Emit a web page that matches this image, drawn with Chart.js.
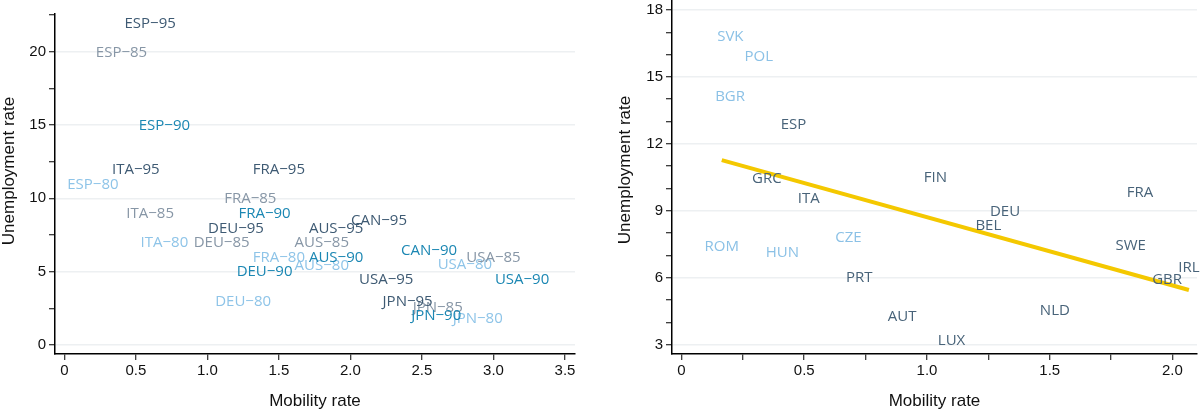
<!DOCTYPE html>
<html><head><meta charset="utf-8">
<script src="https://cdn.jsdelivr.net/npm/chart.js@4"></script>
<style>
html,body{margin:0;padding:0;background:#fff;}
#wrap{position:relative;width:1200px;height:412px;overflow:hidden;}
.p{position:absolute;top:0;width:600px;height:412px;}
</style></head><body>
<div id="wrap">
<div class="p" style="left:0"><canvas id="c1" width="600" height="412"></canvas></div>
<div class="p" style="left:600px"><canvas id="c2" width="600" height="412"></canvas></div>
</div>
<script>
// ---------- Left panel data (country-year labels) ----------
const labels80 = ['ESP−80','ITA−80','DEU−80','FRA−80','AUS−80','USA−80','JPN−80'];
const x80 = [0.20, 0.70, 1.25, 1.50, 1.80, 2.80, 2.89];
const y80 = [10.95, 6.96, 2.95, 5.95, 5.42, 5.46, 1.82];

const labels85 = ['ESP−85','ITA−85','FRA−85','DEU−85','AUS−85','USA−85','JPN−85'];
const x85 = [0.40, 0.60, 1.30, 1.10, 1.80, 3.00, 2.61];
const y85 = [19.93, 8.96, 10.00, 6.96, 6.98, 5.96, 2.54];

const labels90 = ['ESP−90','FRA−90','DEU−90','AUS−90','CAN−90','USA−90','JPN−90'];
const x90 = [0.70, 1.40, 1.40, 1.90, 2.55, 3.20, 2.60];
const y90 = [14.94, 8.96, 5.00, 5.96, 6.46, 4.46, 1.98];

const labels95 = ['ESP−95','ITA−95','FRA−95','DEU−95','AUS−95','CAN−95','USA−95','JPN−95'];
const x95 = [0.60, 0.50, 1.50, 1.20, 1.90, 2.20, 2.25, 2.40];
const y95 = [21.94, 11.96, 11.96, 7.94, 7.96, 8.48, 4.46, 2.95];

// ---------- Right panel data ----------
const labelsWest = ['ESP','GRC','ITA','FIN','FRA','DEU','BEL','SWE','IRL','GBR','NLD','AUT','LUX','PRT'];
const xWest = [0.456, 0.348, 0.518, 1.034, 1.868, 1.318, 1.250, 1.830, 2.067, 1.978, 1.521, 0.899, 1.100, 0.724];
const yWest = [12.85, 10.44, 9.54, 10.49, 9.82, 8.94, 8.34, 7.42, 6.45, 5.89, 4.53, 4.27, 3.17, 6.01];

const labelsEast = ['SVK','POL','BGR','ROM','HUN','CZE'];
const xEast = [0.199, 0.315, 0.198, 0.164, 0.411, 0.680];
const yEast = [16.78, 15.89, 14.11, 7.41, 7.11, 7.78];

const fitX = [0.164, 2.067];
const fitY = [11.27, 5.45];

// ---------- Ticks ----------
const ticksLeftX = [0, 0.5, 1, 1.5, 2, 2.5, 3, 3.5];
const tickLabelsLeftX = ['0','0.5','1.0','1.5','2.0','2.5','3.0','3.5'];
const ticksLeftY = [0, 2.5, 5, 7.5, 10, 12.5, 15, 17.5, 20, 22.5];
const tickLabelsLeftY = ['0','','5','','10','','15','','20',''];
const ticksRightX = [0, 0.25, 0.5, 0.75, 1, 1.25, 1.5, 1.75, 2];
const tickLabelsRightX = ['0','','0.5','','1.0','','1.5','','2.0'];
const ticksRightY = [3,4,5,6,7,8,9,10,11,12,13,14,15,16,17,18];
const tickLabelsRightY = ['3','','','6','','','9','','','12','','','15','','','18'];

const xTitle = 'Mobility rate';
const yTitle = 'Unemployment rate';

// ---------- helpers ----------
const TICKFONT = {family:'"Liberation Sans", Arial, Helvetica, sans-serif', size:15};
const TITLEFONT = {family:'"Liberation Sans", Arial, Helvetica, sans-serif', size:17};

function pts(xs, ys){ return xs.map((x,i)=>({x:x, y:ys[i]})); }

function axis(isX, min, max, vals, labs, size, gridOn, pad, showTitle){
  return {
    type:'linear', position: isX ? 'bottom' : 'left', min:min, max:max,
    afterBuildTicks: s => { s.ticks = vals.map(v => ({value:v})); },
    afterFit: s => {
      if (isX) { s.height = size; s.paddingLeft = 0; s.paddingRight = 0; }
      else { s.width = size; s.paddingTop = 0; s.paddingBottom = 0; }
    },
    ticks: {
      autoSkip:false, maxRotation:0, minRotation:0, padding:pad, color:'#111', font:TICKFONT,
      callback: (v) => { const k = vals.indexOf(v); return k >= 0 ? labs[k] : ''; }
    },
    grid: {
      display:true, drawOnChartArea:gridOn, drawTicks:true, tickLength:6,
      tickColor:'#000', tickWidth:1, lineWidth:1.5,
      color: c => (c.tick && labs[vals.indexOf(c.tick.value)]) ? '#edf0f2' : 'rgba(0,0,0,0)'
    },
    border: {display:true, color:'#000', width:1.5},
    title: showTitle ? {display:true, text:xTitle, color:'#111', font:TITLEFONT, padding:{top:0,bottom:0}} : {display:false}
  };
}

const labelPlugin = {
  id:'ptlabels',
  afterDatasetsDraw(chart){
    const ctx = chart.ctx;
    chart.data.datasets.forEach((ds, i) => {
      if (!ds.pointLabels) return;
      const meta = chart.getDatasetMeta(i);
      ctx.save();
      ctx.font = '15px "Open Sans", "DejaVu Sans", sans-serif';
      ctx.fillStyle = ds.labelColor;
      ctx.textAlign = 'center';
      ctx.textBaseline = 'middle';
      meta.data.forEach((el, j) => ctx.fillText(ds.pointLabels[j], el.x, el.y));
      ctx.restore();
    });
  }
};

function yTitlePlugin(cx, cy){
  return {
    id:'ytitle',
    afterDraw(chart){
      const ctx = chart.ctx;
      ctx.save();
      ctx.translate(cx, cy);
      ctx.rotate(-Math.PI/2);
      ctx.font = '17px "Liberation Sans", Arial, sans-serif';
      ctx.fillStyle = '#111';
      ctx.textAlign = 'center';
      ctx.textBaseline = 'middle';
      ctx.fillText(yTitle, 0, 0);
      ctx.restore();
    }
  };
}

function lds(labels, xs, ys, color){
  return {data:pts(xs, ys), pointLabels:labels, labelColor:color, pointRadius:0, pointHoverRadius:0, showLine:false};
}

const common = {
  responsive:false, animation:false, events:[],
  plugins:{legend:{display:false}, tooltip:{enabled:false}}
};

// ---------- Left chart ----------
new Chart(document.getElementById('c1'), {
  type:'scatter',
  data:{datasets:[
    lds(labels80, x80, y80, '#8ec4e8'),
    lds(labels85, x85, y85, '#8796a6'),
    lds(labels90, x90, y90, '#1b87b3'),
    lds(labels95, x95, y95, '#3e5a73')
  ]},
  options:Object.assign({}, common, {
    layout:{padding:{left:0, right:25, top:14, bottom:0}},
    scales:{
      x: axis(true, -0.065, 3.57, ticksLeftX, tickLabelsLeftX, 58, false, 2, true),
      y: axis(false, -0.614, 22.57, ticksLeftY, tickLabelsLeftY, 55, true, 3, false)
    }
  }),
  plugins:[labelPlugin, yTitlePlugin(9, 171)]
});

// ---------- Right chart ----------
new Chart(document.getElementById('c2'), {
  type:'scatter',
  data:{datasets:[
    {data:pts(fitX, fitY), showLine:true, borderColor:'#f4c800', borderWidth:4, pointRadius:0, pointHoverRadius:0, fill:false},
    lds(labelsEast, xEast, yEast, '#8bc1e6'),
    lds(labelsWest, xWest, yWest, '#486379')
  ]},
  options:Object.assign({}, common, {
    layout:{padding:{left:0, right:3, top:0, bottom:0}},
    scales:{
      x: axis(true, -0.0387, 2.1, ticksRightX, tickLabelsRightX, 58, false, 2, true),
      y: axis(false, 2.583, 18.448, ticksRightY, tickLabelsRightY, 72, true, 3, false)
    }
  }),
  plugins:[labelPlugin, yTitlePlugin(25, 170)]
});
</script>
</body></html>
